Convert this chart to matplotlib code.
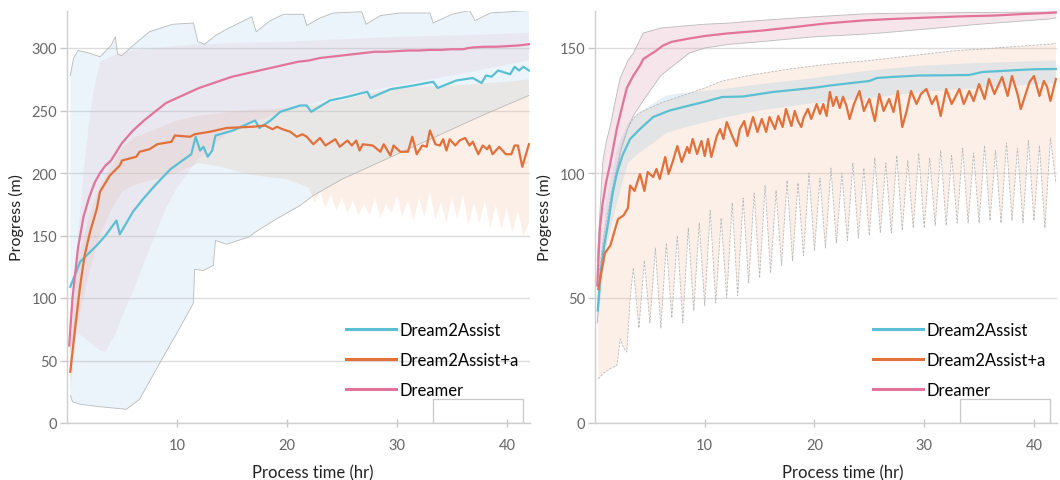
import matplotlib
matplotlib.use("Agg")
import matplotlib.pyplot as plt
from matplotlib.patches import Rectangle
from matplotlib.lines import Line2D

plt.rcParams['font.family'] = ['Lato', 'DejaVu Sans']

# ---------------- panel (a) data: (time hr, progress m) ----------------
a_dreamer = [(0.2, 62), (0.5, 100), (1, 140), (1.5, 165), (2, 180), (2.5, 192), (3, 200), (3.5, 206),
             (4, 210), (5, 224), (6, 234), (7, 242), (8, 249), (9, 256), (10, 260), (11, 264), (12, 268),
             (13, 271), (14, 274), (15, 277), (16, 279), (17, 281), (18, 283), (19, 285), (20, 287),
             (21, 289), (22, 290), (23, 292), (24, 293), (25, 294), (26, 295), (27, 296), (28, 297),
             (29, 297), (30, 297.5), (31, 298), (32, 298), (33, 298.5), (34, 298.5), (35, 299), (36, 299),
             (36.5, 300), (37, 300.5), (38, 301), (39, 301), (40, 301.5), (41, 302), (42, 303)]
a_dreamer_lo = [(0.2, 55), (0.5, 65), (1, 72), (2, 65), (3, 58), (3.5, 57), (4, 65), (4.5, 73), (5, 85),
                (6, 105), (7, 128), (8, 150), (9, 172), (10, 188), (12, 212), (15, 235), (20, 250),
                (25, 262), (30, 270), (35, 278), (42, 290)]
a_dreamer_hi = [(0.2, 80), (1, 150), (1.5, 200), (2, 240), (2.5, 270), (3, 289), (4, 293), (5, 297),
                (8, 300), (11.5, 303), (15, 304), (20, 305), (25, 307), (30, 309), (35, 310), (42, 312)]

a_d2a = [(0.3, 109), (1.2, 129), (2.0, 136), (2.7, 142), (3.5, 150), (4.5, 162), (4.8, 151), (6.0, 169),
         (6.9, 179), (8.0, 190), (9.4, 203), (10.5, 210), (11.3, 215), (11.7, 229), (12.1, 218), (12.4, 221),
         (12.8, 213), (13.2, 218), (13.5, 230), (15.1, 234), (17.1, 242), (17.5, 236), (18.5, 242),
         (19.4, 249), (21.2, 254), (21.8, 254), (22.2, 249), (23.9, 258), (25.5, 261), (27.3, 265),
         (27.6, 260), (29.4, 267), (31.5, 270), (33.3, 273), (33.7, 268), (35.4, 274), (36.9, 276),
         (37.7, 272), (38.1, 278), (38.6, 277), (39.2, 282), (40.3, 279), (40.7, 285), (41.1, 282),
         (41.5, 285), (42.0, 282)]
a_d2a_hi = [(0.3, 278), (0.6, 292), (1, 298), (2, 296), (3, 293), (4, 302), (4.4, 309), (4.6, 295),
            (5, 294), (6, 302), (7.5, 313), (9.6, 319), (11.5, 320), (11.9, 305), (12.5, 303), (13.5, 310),
            (14.5, 315), (16.8, 325), (17.2, 313), (18.5, 322), (19.7, 327), (21.5, 327), (21.8, 318),
            (23, 324), (24.2, 328), (26.8, 329), (27.2, 319), (28.5, 326), (30.3, 328), (33, 328),
            (33.3, 320), (35, 327), (36.6, 330), (37.1, 322), (38.5, 328), (42, 330)]
a_d2a_lo = [(0.3, 22), (0.5, 17), (1.2, 15), (3, 13), (5.4, 11), (6.6, 19), (8.5, 49), (10, 72),
            (11.5, 96), (11.6, 123), (12.4, 122), (13.3, 126), (13.5, 146), (14.5, 143), (16.6, 149),
            (17, 152), (19, 163), (21.2, 174), (22.4, 182), (25, 195), (30, 215), (35, 235), (38, 247),
            (42, 262)]

a_d2aa = [(0.3, 41), (0.7, 73), (1.2, 110), (1.6, 134), (2.1, 153), (2.7, 171), (3.0, 185), (3.9, 198),
          (4.8, 206), (5.0, 210), (6.3, 213), (6.6, 217), (7.5, 219), (8.2, 223), (9.5, 225), (9.8, 230),
          (11.2, 229), (11.6, 231), (13.0, 233), (14.5, 236), (16.9, 237), (18.0, 238), (18.7, 235),
          (19.1, 237), (19.6, 235), (20.3, 233), (20.9, 229), (21.4, 231), (21.8, 229), (22.4, 223),
          (23.0, 228), (23.5, 222), (24.4, 227), (24.8, 221), (25.5, 226), (25.9, 222), (26.3, 226),
          (26.6, 218), (26.9, 223), (27.8, 222), (28.5, 217), (28.8, 223), (29.4, 214), (29.7, 222),
          (30.3, 217), (31.0, 217), (31.4, 229), (31.8, 215), (32.3, 222), (32.7, 221), (33.0, 234),
          (33.5, 223), (33.9, 222), (34.2, 227), (34.5, 218), (34.8, 227), (35.3, 222), (35.7, 226),
          (36.2, 228), (36.6, 222), (36.9, 225), (37.4, 215), (37.8, 222), (38.2, 219), (38.4, 222),
          (38.7, 215), (39.3, 221), (39.9, 215), (40.4, 215), (40.7, 222), (41.0, 222), (41.4, 205),
          (41.7, 214), (42.0, 223)]
a_d2aa_hi = [(0.3, 60), (1, 130), (2, 165), (3, 190), (4, 205), (5, 220), (6, 228), (8, 235), (10, 242),
             (12, 246), (14, 248), (16, 250), (18, 251), (20, 252), (22, 254), (25, 258), (28, 265),
             (30, 268), (35, 270), (40, 273), (42, 275)]
a_d2aa_lo = [(0.3, 25), (1, 80), (2, 120), (3, 150), (4, 170), (5, 185), (6, 190), (8, 195), (10, 200),
             (12, 208), (14, 205), (16, 200), (18, 197), (20, 195), (21.5, 190), (22, 188), (22.5, 176),
             (23, 185), (23.5, 172), (24, 183), (24.5, 170), (25, 180), (25.5, 168), (26, 178), (26.5, 166),
             (27, 176), (27.5, 166), (28, 180), (28.5, 164), (29, 175), (29.5, 168), (30, 182), (30.5, 165),
             (31, 178), (31.5, 162), (32, 180), (32.5, 165), (33, 185), (33.5, 163), (34, 177), (34.5, 160),
             (35, 180), (35.5, 163), (36, 183), (36.5, 158), (37, 176), (37.5, 160), (38, 178), (38.5, 156),
             (39, 174), (39.5, 155), (40, 172), (40.5, 152), (41, 170), (41.5, 150), (42, 160)]

# ---------------- panel (b) data ----------------
b_dreamer = [(0.2, 55), (0.45, 78), (0.7, 88), (1.0, 96), (1.4, 104), (2.0, 118), (2.5, 127), (2.9, 134),
             (3.5, 139), (4.1, 143), (4.4, 145.6), (5.6, 149), (6.2, 151), (7.0, 152.5), (8.6, 153.8),
             (10, 154.8), (12, 155.8), (15.3, 157), (18, 158.3), (21, 159.8), (24.4, 161), (27, 161.6),
             (30.5, 162.2), (33, 162.6), (36.5, 163), (39, 163.6), (41.2, 164), (42, 164.2)]
b_dreamer_hi = [(0.2, 65), (0.7, 104), (1, 112), (1.4, 119), (2, 132), (2.3, 138), (3, 145), (3.5, 148),
                (4.4, 156), (6, 158), (8.6, 159), (10, 159.5), (12.3, 160), (15, 161), (20, 162.5),
                (24.4, 163.6), (26, 163.8), (30, 164), (35, 164.2), (41.4, 164.4), (42, 164.5)]
b_dreamer_lo = [(0.2, 40), (0.7, 65), (1, 75), (1.4, 85), (2, 100), (2.3, 108), (3, 118), (3.5, 123),
                (4.4, 129), (6, 139), (8.6, 148), (10, 150), (12.3, 151.5), (15, 152.5), (20, 154.5),
                (24.4, 155.5), (26, 156), (30, 157.5), (35, 159.5), (41.4, 161.6), (42, 162)]

b_d2a = [(0.25, 45), (0.5, 60), (0.8, 70), (1.2, 80), (1.6, 92), (2, 100), (2.5, 107), (3.2, 113.6),
         (4.1, 117.6), (5.3, 122.4), (6.8, 125), (8.6, 127), (10, 128.5), (11.6, 130.4), (13.5, 130.6),
         (16.2, 132.4), (18.9, 133.6), (20.5, 134.4), (21.4, 135), (23, 135.8), (25, 136.8), (25.7, 138),
         (27, 138.4), (29.5, 139), (32, 139.1), (34.1, 139.2), (35.3, 140.4), (37, 140.8), (38.6, 141.2),
         (40, 141.5), (42, 141.6)]
b_d2a_hi = [(0.25, 50), (1, 88), (2, 110), (3, 120), (4, 124), (5, 127), (6.5, 131), (8, 132), (11.6, 133.5),
            (15, 135.5), (20, 138), (25, 141), (30, 143), (35, 144), (42, 145)]
b_d2a_lo = [(0.25, 38), (1, 70), (2, 88), (3, 104), (4, 108), (5, 111), (6.5, 116), (8, 118), (11.6, 122),
            (15, 125), (20, 128), (25, 130), (30, 132.5), (35, 134), (42, 136)]

b_d2aa = [(0.3, 53.6), (0.9, 68), (1.4, 71), (2.1, 81.6), (2.6, 83), (3.0, 86), (3.2, 95), (3.6, 92.8),
          (4.1, 99.6), (4.5, 92.8), (4.8, 100.4), (5.3, 98.4), (5.6, 101.6), (5.9, 97.6), (6.4, 106.4),
          (6.7, 99.6), (7.1, 104.8), (7.5, 110.8), (7.9, 104.4), (8.4, 110.4), (8.6, 108), (8.9, 113.6),
          (9.3, 107.6), (9.7, 112.8), (10.0, 106.8), (10.3, 113.6), (10.6, 106.4), (11.1, 114.8),
          (11.4, 117.6), (11.7, 113.6), (12.0, 120.4), (12.5, 114.8), (12.9, 110.8), (13.2, 117.6),
          (13.6, 120.8), (13.9, 114.8), (14.4, 122.4), (14.8, 116.4), (15.2, 121.6), (15.6, 116.4),
          (15.9, 122.4), (16.4, 117.6), (16.7, 122.8), (17.1, 118.4), (17.4, 125.6), (17.9, 118.8),
          (18.2, 124.8), (18.5, 120.8), (18.8, 118.4), (19.0, 122), (19.4, 125.6), (19.7, 121.6),
          (20.2, 127.6), (20.5, 123.6), (20.8, 127.6), (21.1, 122.8), (21.4, 132.4), (21.7, 126.8),
          (22.0, 130.4), (22.3, 126), (22.6, 130.5), (22.9, 127), (23.2, 121.6), (23.6, 127.6),
          (24.1, 132.8), (24.5, 124.8), (25.0, 129.6), (25.5, 120.8), (25.9, 131.6), (26.3, 124.8),
          (26.8, 129.6), (27.2, 124.4), (27.6, 132.8), (28.0, 118.4), (28.4, 124.8), (28.8, 132.8),
          (29.3, 127.6), (29.7, 131.6), (30.2, 133.6), (30.7, 127.6), (31.1, 130.8), (31.5, 122.8),
          (32.0, 133.6), (32.5, 127.6), (33.2, 133.6), (33.6, 127.6), (34.1, 132.8), (34.5, 128.8),
          (35.0, 135.6), (35.5, 129.6), (35.9, 137.6), (36.4, 131.6), (36.8, 135.6), (37.1, 138.4),
          (37.6, 130.8), (38.0, 138.8), (38.5, 131.6), (38.8, 125.6), (39.3, 132.4), (39.6, 136.4),
          (40.0, 138.8), (40.5, 130.8), (40.9, 136.8), (41.2, 134.4), (41.5, 128.8), (42.0, 137.6)]
b_d2aa_hi = [(0.3, 58), (0.8, 75), (1.5, 92), (2, 103), (2.5, 112), (3, 118), (3.5, 122), (4, 124), (5, 126),
             (6, 128), (8, 131), (10, 134), (11.6, 136.8), (14, 139), (17.7, 141.6), (21.4, 143.6),
             (25, 145), (28, 146.5), (30, 147.5), (32.5, 148.8), (35, 149.5), (38, 150.5), (41.6, 151.6),
             (42, 152)]
b_d2aa_lo = [(0.3, 17.6), (0.8, 20), (1.5, 22), (2.0, 23), (2.3, 33.6), (2.6, 30), (2.9, 28.4), (3.2, 50),
             (3.5, 62), (4, 38), (4.5, 65), (5, 40), (5.5, 70), (6, 38), (6.5, 72), (7, 42), (7.5, 75),
             (8, 40), (8.5, 78), (9, 45), (9.5, 80), (10, 47), (10.5, 85), (11, 48), (11.5, 82), (12, 50),
             (12.5, 88), (13, 51), (13.5, 90), (14, 56), (14.5, 92), (15, 58), (15.5, 95), (16, 60),
             (16.5, 93), (17, 63), (17.5, 97), (18, 65), (18.5, 96), (19, 67), (19.5, 100), (20, 69),
             (20.5, 98), (21, 70), (21.5, 102), (22, 72), (22.5, 100), (23, 73), (23.5, 104), (24, 74),
             (24.5, 102), (25, 75), (25.5, 106), (26, 76), (26.5, 104), (27, 76), (27.5, 107), (28, 77),
             (28.5, 105), (29, 78), (29.5, 108), (30, 78), (30.5, 106), (31, 79), (31.5, 109), (32, 79),
             (32.5, 107), (33, 80), (33.5, 110), (34, 80), (34.5, 108), (35, 80), (35.5, 111), (36, 81),
             (36.5, 109), (37, 80), (37.5, 112), (38, 81), (38.5, 110), (39, 80), (39.5, 113), (40, 81),
             (40.5, 111), (41, 78), (41.5, 114), (42, 96)]

labels = ["Dream2Assist", "Dream2Assist+a", "Dreamer"]
yticks_a = [0, 50, 100, 150, 200, 250, 300]
yticks_b = [0, 50, 100, 150]
xticks = [10, 20, 30, 40]

C_D2A = "#5bbfd4"
C_D2AA = "#e2703a"
C_DRM = "#e27399"
BAND_D2A = "#9fc8e6"
BAND_D2AA = "#f6c2a2"
BAND_DRM = "#e2aec2"
EDGE = "#b9b9b9"


def xy(pairs):
    return [p[0] for p in pairs], [p[1] for p in pairs]


def band(ax, lo, hi, color, alpha, edge_lo=False, edge_hi=False, ls="-"):
    tl, vl = xy(lo)
    th, vh = xy(hi)
    ax.fill(tl + th[::-1], vl + vh[::-1], color=color, alpha=alpha, lw=0, zorder=1)
    if edge_lo:
        ax.plot(tl, vl, color=EDGE, lw=0.6, ls=ls, zorder=1.5)
    if edge_hi:
        ax.plot(th, vh, color=EDGE, lw=0.6, ls=ls, zorder=1.5)


def style(ax, ymax, yticks, xlabel_x):
    ax.set_xlim(0, 42.1)
    ax.set_ylim(0, ymax)
    ax.set_yticks(yticks)
    ax.set_xticks(xticks)
    ax.yaxis.grid(True, color="#dcdcdc", lw=1.0)
    ax.set_axisbelow(True)
    for s in ("top", "right"):
        ax.spines[s].set_visible(False)
    for s in ("left", "bottom"):
        ax.spines[s].set_color("#cfcfcf")
        ax.spines[s].set_linewidth(1.0)
    ax.tick_params(axis="y", colors="#c8c8c8", labelcolor="#666666", labelsize=10.5, length=5, width=1,
                   pad=2)
    ax.tick_params(axis="x", colors="#c8c8c8", labelcolor="#666666", labelsize=10.5, length=6,
                   width=1, direction="inout", pad=8)
    ax.set_xlabel("Process time (hr)", fontsize=12, color="#222222")
    ax.set_ylabel("Progress (m)", fontsize=11.5, color="#222222")
    ax.xaxis.set_label_coords(xlabel_x, -0.1)
    ax.yaxis.set_label_coords(-0.093, 0.5)
    handles = [Line2D([], [], color=c, lw=2.2) for c in (C_D2A, C_D2AA, C_DRM)]
    ax.legend(handles, labels, loc="lower left", bbox_to_anchor=(0.577, 0.032), frameon=False,
              fontsize=12, handlelength=3.0, handletextpad=0.2, labelspacing=0.85,
              borderaxespad=0.3)
    ax.add_patch(Rectangle((0.791, 0.0), 0.194, 0.058, transform=ax.transAxes, fill=False,
                           ec="#c8c8c8", lw=0.9, zorder=3))


fig = plt.figure(figsize=(10.6, 4.81), dpi=100)
axA = fig.add_axes([67 / 1060, 57 / 481, 463 / 1060, 412 / 481])
axB = fig.add_axes([595 / 1060, 57 / 481, 462 / 1060, 412 / 481])

# panel (a)
band(axA, a_d2aa_lo, a_d2aa_hi, BAND_D2AA, 0.25)
band(axA, a_d2a_lo, a_d2a_hi, BAND_D2A, 0.2, edge_lo=True, edge_hi=True)
band(axA, a_dreamer_lo, a_dreamer_hi, BAND_DRM, 0.16)
for data, c in ((a_d2a, C_D2A), (a_d2aa, C_D2AA), (a_dreamer, C_DRM)):
    t, v = xy(data)
    axA.plot(t, v, color=c, lw=1.6, zorder=2)
style(axA, 329.6, yticks_a, 0.531)

# panel (b)
band(axB, b_d2aa_lo, b_d2aa_hi, BAND_D2AA, 0.25, edge_lo=True, edge_hi=True, ls=(0, (3, 1.5)))
band(axB, b_d2a_lo, b_d2a_hi, BAND_D2A, 0.28)
band(axB, b_dreamer_lo, b_dreamer_hi, BAND_DRM, 0.3, edge_lo=True, edge_hi=True)
for data, c in ((b_d2a, C_D2A), (b_d2aa, C_D2AA), (b_dreamer, C_DRM)):
    t, v = xy(data)
    axB.plot(t, v, color=c, lw=1.6, zorder=2)
style(axB, 164.8, yticks_b, 0.537)

fig.savefig("out.png", dpi=100)
